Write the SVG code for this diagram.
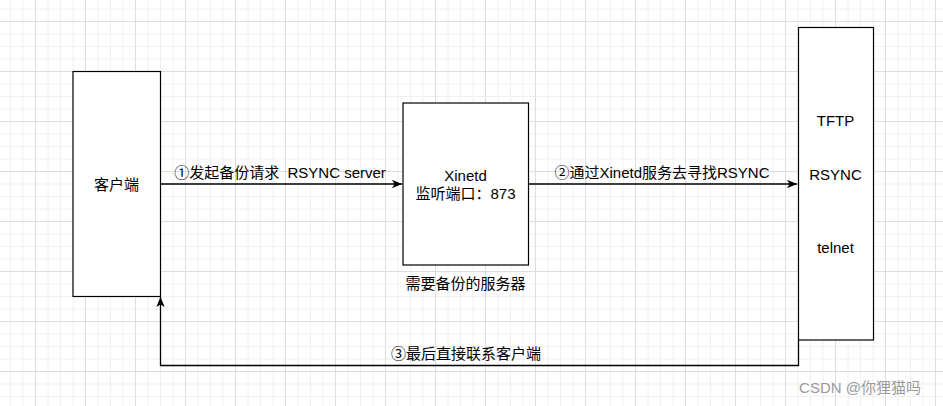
<svg xmlns="http://www.w3.org/2000/svg" width="943" height="406" viewBox="0 0 943 406">
  <style>
    .box { fill: #ffffff; stroke: #000000; stroke-width: 1.2; }
    .t { font-family: "Liberation Sans", "Noto Sans CJK SC", sans-serif; font-size: 15px; fill: #000000; text-anchor: middle; dominant-baseline: central; white-space: pre; }
    .edge { fill: none; stroke: #000000; stroke-width: 1.3; }
    .wm { font-family: "Liberation Sans", "Noto Sans CJK SC", sans-serif; font-size: 15px; fill: #9a9a9a; text-anchor: middle; dominant-baseline: central; }
  </style>
  <defs>
    <pattern id="grid" x="35" y="21" width="50" height="50" patternUnits="userSpaceOnUse">
      <path d="M13 0V50M25.5 0V50M38 0V50M0 13H50M0 25.5H50M0 38H50" stroke="#f0f0f0" stroke-width="1" fill="none"/>
      <path d="M0.5 0V50M0 0.5H50" stroke="#dddddd" stroke-width="1" fill="none"/>
    </pattern>
    <marker id="arr" viewBox="0 0 10 10" refX="10" refY="5" markerWidth="10" markerHeight="10" markerUnits="userSpaceOnUse" orient="auto">
      <path d="M0 0.8 L10 5 L0 9.2 L2.6 5 Z" fill="#000000"/>
    </marker>
  </defs>
  <rect width="943" height="406" fill="#ffffff"/>
  <rect width="943" height="406" fill="url(#grid)"/>

  <g id="edges">
    <path class="edge" d="M160.5 184 L402 184" marker-end="url(#arr)"/>
    <text class="t" x="280" y="172" xml:space="preserve">①发起备份请求  RSYNC server</text>
    <path class="edge" d="M528.5 184 L797 184" marker-end="url(#arr)"/>
    <text class="t" x="662" y="172">②通过Xinetd服务去寻找RSYNC</text>
    <path class="edge" d="M798.5 340 L798.5 365.5 L160.5 365.5 L160.5 297" marker-end="url(#arr)"/>
    <text class="t" x="466" y="353">③最后直接联系客户端</text>
  </g>

  <g id="client">
    <rect class="box" x="73" y="71.5" width="87.5" height="225"/>
    <text class="t" x="116.5" y="184">客户端</text>
  </g>

  <g id="xinetd">
    <rect class="box" x="403" y="103" width="125.5" height="162"/>
    <text class="t" x="465.5" y="175">Xinetd</text>
    <text class="t" x="465.5" y="193">监听端口：873</text>
    <text class="t" x="465.5" y="283">需要备份的服务器</text>
  </g>

  <g id="services">
    <rect class="box" x="798.5" y="27.5" width="75" height="312.5"/>
    <text class="t" x="835.5" y="120">TFTP</text>
    <text class="t" x="835.5" y="174">RSYNC</text>
    <text class="t" x="835.5" y="247">telnet</text>
  </g>

  <text class="wm" x="860" y="387">CSDN @你狸猫吗</text>
</svg>
